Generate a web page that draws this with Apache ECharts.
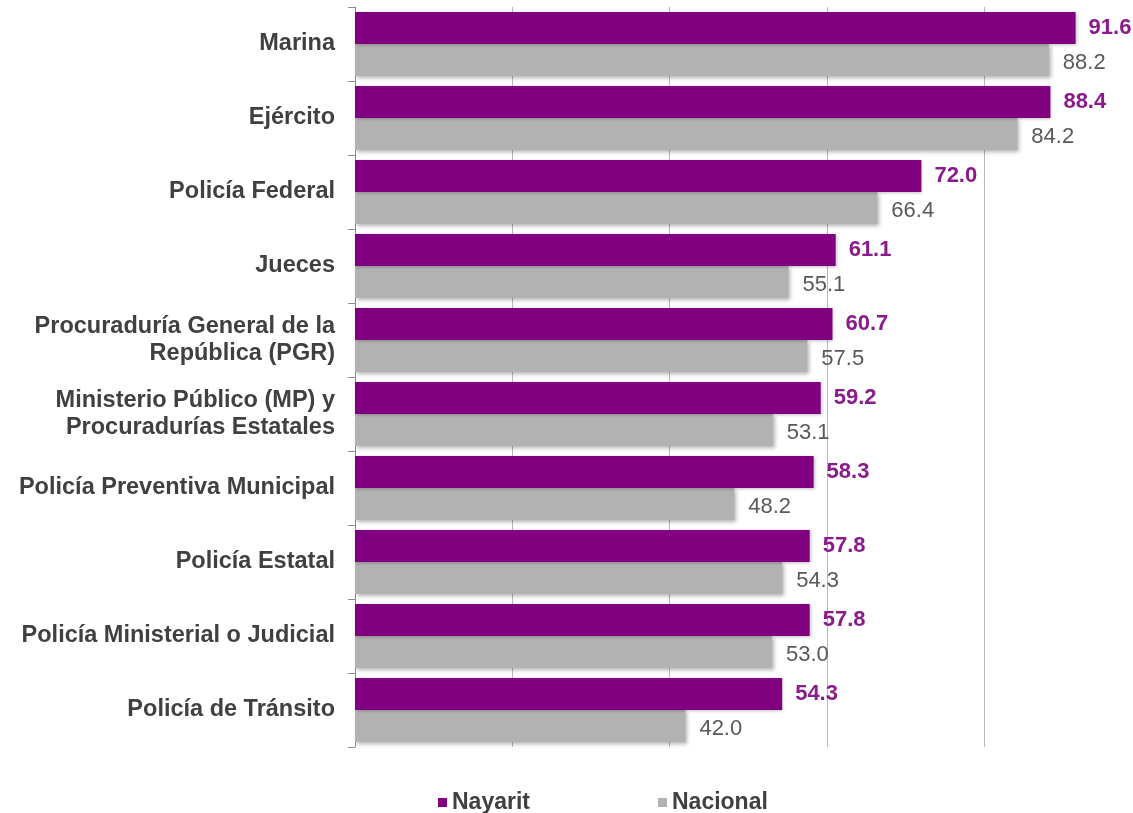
<!DOCTYPE html>
<html>
<head>
<meta charset="utf-8">
<script src="https://cdn.jsdelivr.net/npm/echarts@6/dist/echarts.min.js"></script>
<style>
html,body{margin:0;padding:0;background:#fff;}
#chart{width:1133px;height:813px;}
</style>
</head>
<body>
<div id="chart"></div>
<script>
var categories = [
  "Marina",
  "Ejército",
  "Policía Federal",
  "Jueces",
  "Procuraduría General de la\nRepública (PGR)",
  "Ministerio Público (MP) y\nProcuradurías Estatales",
  "Policía Preventiva Municipal",
  "Policía Estatal",
  "Policía Ministerial o Judicial",
  "Policía de Tránsito"
];
var nayarit = [91.6, 88.4, 72.0, 61.1, 60.7, 59.2, 58.3, 57.8, 57.8, 54.3];
var nacional = [88.2, 84.2, 66.4, 55.1, 57.5, 53.1, 48.2, 54.3, 53.0, 42.0];
var seriesNames = ["Nayarit", "Nacional"];

var FONT = "'Liberation Sans', Arial, sans-serif";
var chart = echarts.init(document.getElementById('chart'), null, {renderer: 'canvas'});
chart.setOption({
  animation: false,
  backgroundColor: '#ffffff',
  textStyle: {fontFamily: FONT},
  grid: {left: 355, top: 7, right: 0, height: 740, containLabel: false},
  legend: {
    data: seriesNames,
    top: 786,
    left: 433,
    itemGap: 128,
    itemWidth: 9,
    itemHeight: 9,
    icon: 'rect',
    textStyle: {fontFamily: FONT, fontSize: 23, fontWeight: 'bold', color: '#404040', padding: [0,0,0,0]}
  },
  xAxis: {
    type: 'value',
    min: 0,
    max: 98.9,
    interval: 20,
    axisLine: {show: false},
    axisTick: {show: false},
    axisLabel: {show: false},
    splitLine: {show: true, lineStyle: {color: '#b8b8b8', width: 1}}
  },
  yAxis: {
    type: 'category',
    data: categories,
    inverse: true,
    axisLine: {show: true, lineStyle: {color: '#8c8c8c', width: 1}},
    axisTick: {show: true, length: 7, lineStyle: {color: '#8c8c8c'}},
    axisLabel: {
      fontFamily: FONT, fontSize: 23.5, fontWeight: 'bold', color: '#404040',
      margin: 20, lineHeight: 27, align: 'right'
    }
  },
  series: [
    {
      name: seriesNames[0],
      type: 'bar',
      data: nayarit,
      barWidth: 32,
      barGap: '0%',
      itemStyle: {color: '#800080', shadowColor: 'rgba(0,0,0,0.25)', shadowBlur: 3, shadowOffsetX: 1, shadowOffsetY: 1},
      label: {
        show: true, position: 'right', distance: 13,
        formatter: function(p){ return p.value.toFixed(1); },
        fontFamily: FONT, fontSize: 22, fontWeight: 'bold', color: '#8b1a8b'
      },
      z: 3
    },
    {
      name: seriesNames[1],
      type: 'bar',
      data: nacional,
      barWidth: 32,
      barGap: '0%',
      itemStyle: {color: '#b2b2b2', shadowColor: 'rgba(0,0,0,0.3)', shadowBlur: 4, shadowOffsetX: 2, shadowOffsetY: 2},
      label: {
        show: true, position: 'right', distance: 14, offset: [0, 3],
        formatter: function(p){ return p.value.toFixed(1); },
        fontFamily: FONT, fontSize: 22, color: '#595959'
      },
      z: 2
    }
  ]
});
</script>
</body>
</html>
